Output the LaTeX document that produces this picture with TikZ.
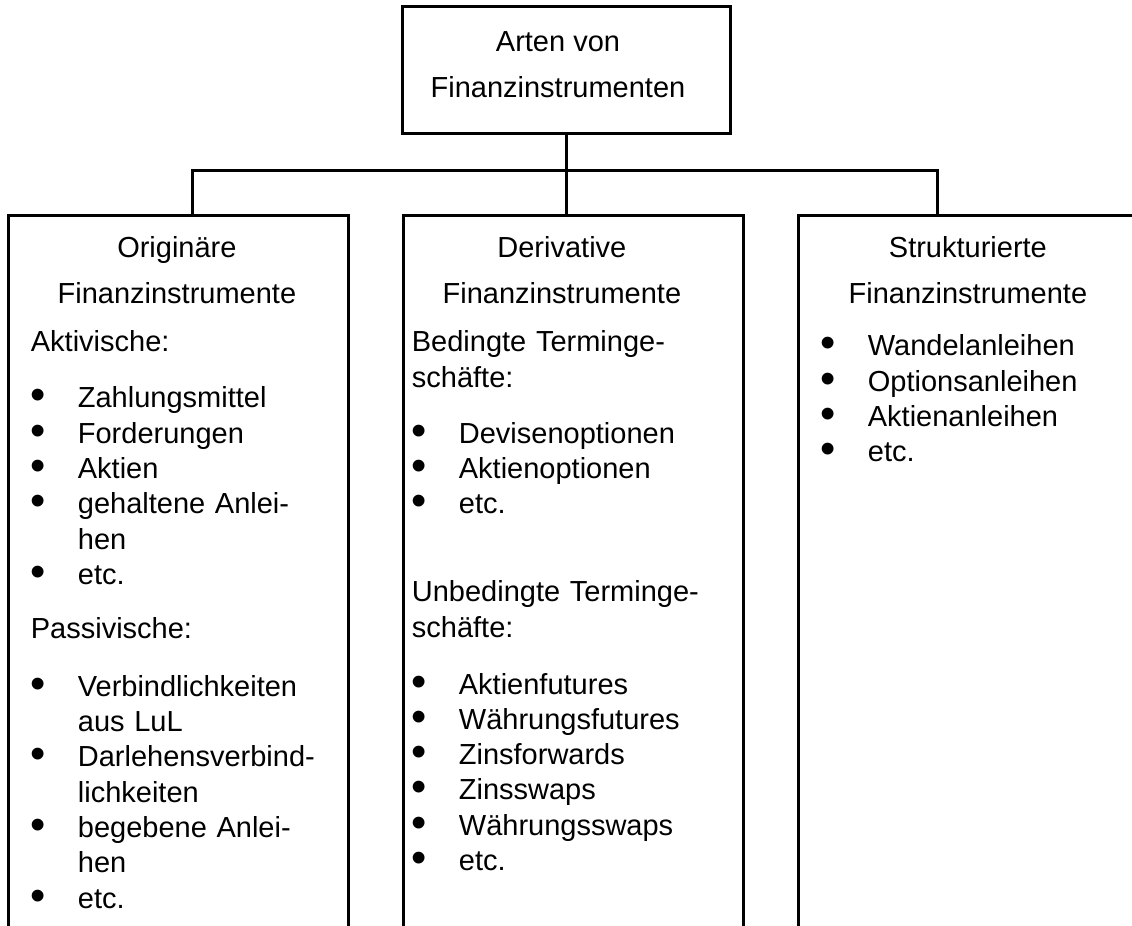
\documentclass[tikz,border=0pt]{standalone}
\usepackage{fontspec}
\setmainfont{Liberation Sans}
\usepackage{tikz}
\usetikzlibrary{positioning}

\newcommand{\kopf}[2]{{\centering\setlength\baselineskip{23pt}\rule{0pt}{12pt}#1\\#2\par}\vspace{6.35pt}}
\newcommand{\punkt}[1]{\par\noindent\makebox[23.5pt][l]{\raisebox{-1pt}{\scalebox{1.5}{\textbullet}}}#1\par}
\newcommand{\weiter}[1]{\par\noindent\hspace*{23.5pt}#1\par}

\begin{document}
\begin{tikzpicture}[x=0.5pt,y=-0.5pt,
	linie/.style={line width=1.5pt},
	kasten/.style={draw,line width=1.5pt,inner sep=0pt},
	spalte/.style={inner sep=0pt,text width=#1,font=\fontsize{14.5pt}{17.65pt}\selectfont,
		execute at begin node={\setlength\parindent{0pt}\setlength\parskip{0pt}\raggedright}}]
		\useasboundingbox (0,0) rectangle (1132,926);
		\clip (0,0) rectangle (1132,926);
		\node[kasten,minimum width=164pt,minimum height=63.5pt,align=center,font=\fontsize{14.5pt}{23pt}\selectfont] (arten) at (566,69.5) {\rule{0pt}{12pt}Arten von\hspace*{8pt}\\Finanzinstrumenten\hspace*{8pt}\rule[-7pt]{0pt}{7pt}};
		\node[kasten,minimum width=170pt,minimum height=392.5pt] (orig) at (178,607.5) {};
		\node[kasten,minimum width=170pt,minimum height=392.5pt] (deriv) at (573,607.5) {};
		\node[kasten,minimum width=170pt,minimum height=392.5pt] (struk) at (968,607.5) {};
		\coordinate (links) at (192,170);
		\coordinate (rechts) at (937,170);
		\draw[linie] (links |- orig.north) -- (links) -- (rechts) -- (rechts |- struk.north);
		\draw[linie] (arten.south) -- (arten.south |- deriv.north);
		\node[spalte=146pt,below right=10pt and 12pt of orig.north west] (origtext) {%
			\kopf{Originäre}{Finanzinstrumente}
			Aktivische:\par\vspace{10.35pt}
			\punkt{Zahlungsmittel}
			\punkt{Forderungen}
			\punkt{Aktien}
			\punkt{gehaltene Anlei-}
			\weiter{hen}
			\punkt{etc.}
			\vspace{9.35pt}Passivische:\par\vspace{11.35pt}
			\punkt{Verbindlichkeiten}
			\weiter{aus LuL}
			\punkt{Darlehensverbind-}
			\weiter{lichkeiten}
			\punkt{begebene Anlei-}
			\weiter{hen}
			\punkt{etc.}};
		\node[spalte=150pt,below right=10pt and 5pt of deriv.north west] (derivtext) {%
			\kopf{Derivative}{Finanzinstrumente}
			Bedingte Terminge-\par schäfte:\par\vspace{10.35pt}
			\punkt{Devisenoptionen}
			\punkt{Aktienoptionen}
			\punkt{etc.}
			\vspace{26.35pt}Unbedingte Terminge-\par schäfte:\par\vspace{10.85pt}
			\punkt{Aktienfutures}
			\punkt{Währungsfutures}
			\punkt{Zinsforwards}
			\punkt{Zinsswaps}
			\punkt{Währungsswaps}
			\punkt{etc.}};
		\node[spalte=147pt,below right=10pt and 12pt of struk.north west] (struktext) {%
			\kopf{Strukturierte}{Finanzinstrumente}
			\vspace{2pt}
			\punkt{Wandelanleihen}
			\punkt{Optionsanleihen}
			\punkt{Aktienanleihen}
			\punkt{etc.}};
	\end{tikzpicture}
\end{document}
